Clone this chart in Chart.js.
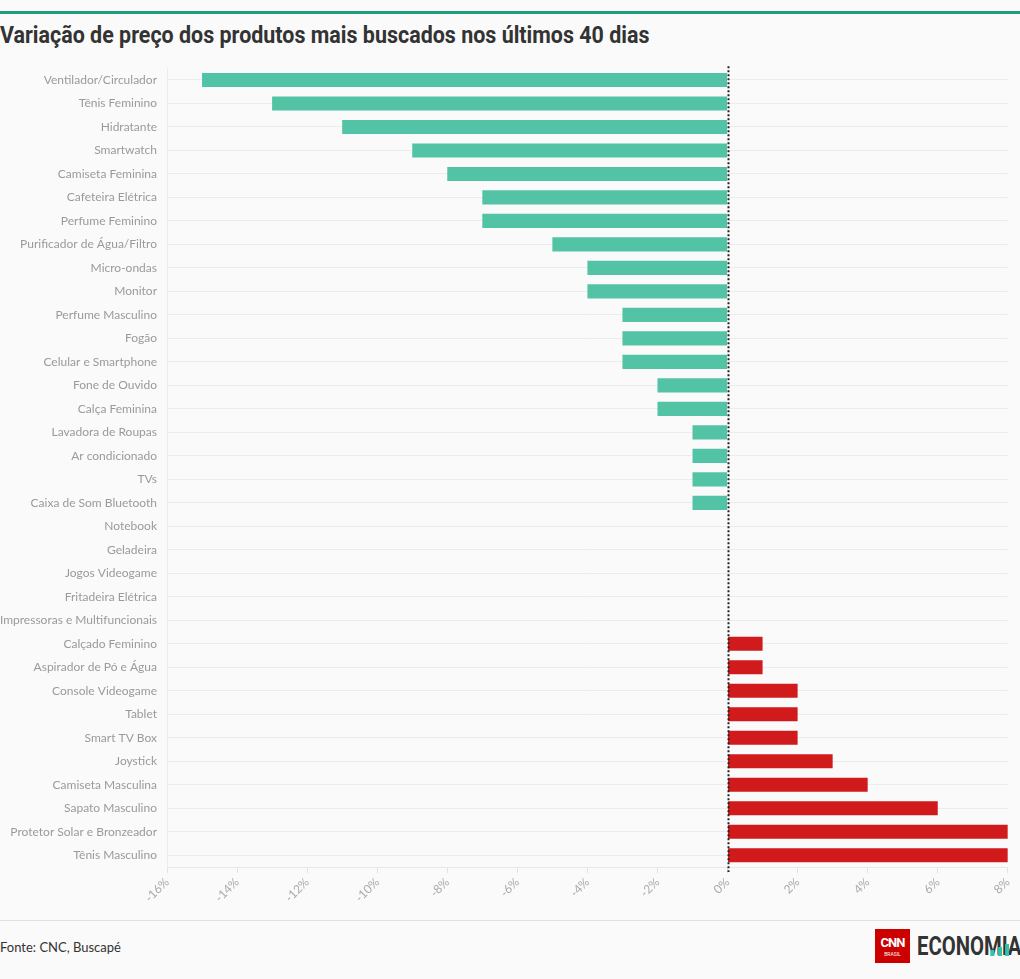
<!DOCTYPE html>
<html lang="pt-BR">
<head>
<meta charset="utf-8">
<title>Variação de preço dos produtos mais buscados</title>
<script src="https://cdn.jsdelivr.net/npm/chart.js@4/dist/chart.umd.min.js"></script>
<style>
  html, body { margin: 0; padding: 0; background: #fafafa; }
  body { width: 1020px; height: 979px; position: relative; overflow: hidden; font-family: Lato, "Noto Sans", sans-serif; }
  .topline { position: absolute; left: 0; top: 11px; width: 1020px; height: 3px; background: #1f9e7e; }
  h1 { position: absolute; left: 0; top: 21px; margin: 0; font-family: Roboto, sans-serif; font-weight: 700; font-size: 22px; color: #333; white-space: nowrap; transform: scaleX(0.975) scaleY(1.08); transform-origin: left top; }
  .chart-box { position: absolute; left: 0; top: 51px; width: 1020px; height: 869px; }
  .divider { position: absolute; left: 0; top: 920px; width: 1020px; height: 1px; background: #e0e0e0; }
  .source { position: absolute; left: 0; top: 939px; font-size: 13px; color: #333; }
  .cnn { position: absolute; left: 875px; top: 929px; width: 35px; height: 34px; background: #cc0000; color: #fff; text-align: center; font-family: Roboto, sans-serif; }
  .cnn b { display: block; font-size: 13px; line-height: 13px; margin-top: 7px; letter-spacing: -1px; }
  .cnn small { display: block; font-size: 5px; line-height: 6px; margin-top: 2px; }
  .eco { position: absolute; left: 917px; top: 931px; font-family: Roboto, sans-serif; font-weight: 700; font-size: 26px; line-height: 30px; color: #333; transform: scaleX(0.78); transform-origin: left top; white-space: nowrap; }
  .eco i { position: absolute; bottom: 5px; width: 5px; background: #2fc4b0; }
</style>
</head>
<body>
<div class="topline"></div>
<h1>Variação de preço dos produtos mais buscados nos últimos 40 dias</h1>
<div class="chart-box"><canvas id="chart"></canvas></div>
<div class="divider"></div>
<div class="source">Fonte: CNC, Buscapé</div>
<div class="cnn"><b>CNN</b><small>BRASIL</small></div>
<div class="eco">ECONOMIA<i style="left:94px;height:6px"></i><i style="left:104px;height:9px"></i><i style="left:113px;height:12px"></i></div>

<script>
'use strict';

// ── Data ─────────────────────────────────────────────
const products = [
  'Ventilador/Circulador', 'Tênis Feminino', 'Hidratante', 'Smartwatch',
  'Camiseta Feminina', 'Cafeteira Elétrica', 'Perfume Feminino',
  'Purificador de Água/Filtro', 'Micro-ondas', 'Monitor', 'Perfume Masculino',
  'Fogão', 'Celular e Smartphone', 'Fone de Ouvido', 'Calça Feminina',
  'Lavadora de Roupas', 'Ar condicionado', 'TVs', 'Caixa de Som Bluetooth',
  'Notebook', 'Geladeira', 'Jogos Videogame', 'Fritadeira Elétrica',
  'Impressoras e Multifuncionais', 'Calçado Feminino', 'Aspirador de Pó e Água',
  'Console Videogame', 'Tablet', 'Smart TV Box', 'Joystick',
  'Camiseta Masculina', 'Sapato Masculino', 'Protetor Solar e Bronzeador',
  'Tênis Masculino'
];
const variation = [
  -15, -13, -11, -9, -8, -7, -7, -5, -4, -4, -3, -3, -3, -2, -2,
  -1, -1, -1, -1, 0, 0, 0, 0, 0, 1, 1, 2, 2, 2, 3, 4, 6, 8, 8
];
const xMin = -16;
const xMax = 8;
const xStep = 2;

const GREEN = '#52c4a5';
const RED   = '#d01a1c';

// ── Dotted zero line ─────────────────────────────────
const zeroLine = {
  id: 'zeroLine',
  afterDatasetsDraw(chart) {
    const { ctx, chartArea, scales } = chart;
    const x = Math.round(scales.x.getPixelForValue(0)) + 0.5;
    ctx.save();
    ctx.strokeStyle = '#222';
    ctx.lineWidth = 2;
    ctx.setLineDash([2, 2]);
    ctx.beginPath();
    ctx.moveTo(x, chartArea.top - 2);
    ctx.lineTo(x, chartArea.bottom + 5);
    ctx.stroke();
    ctx.restore();
  }
};

new Chart(document.getElementById('chart'), {
  type: 'bar',
  data: {
    labels: products,
    datasets: [{
      data: variation,
      backgroundColor: variation.map(v => v < 0 ? GREEN : RED),
      borderWidth: 0,
      categoryPercentage: 1,
      barPercentage: 0.6
    }]
  },
  options: {
    indexAxis: 'y',
    responsive: true,
    maintainAspectRatio: false,
    animation: false,
    layout: { padding: { top: 5, right: 10, left: 0, bottom: 0 } },
    plugins: { legend: { display: false }, tooltip: { enabled: false } },
    scales: {
      x: {
        min: xMin,
        max: xMax,
        ticks: {
          stepSize: xStep,
          minRotation: 45,
          maxRotation: 45,
          color: '#aaa',
          font: { family: 'Lato', size: 12 },
          padding: 2,
          callback: v => v + '%'
        },
        grid: { drawOnChartArea: false, drawTicks: true, tickLength: 6, color: '#e2e2e2' },
        border: { display: true, color: '#e8e8e8' },
        afterFit: s => { s.height = 53; }
      },
      y: {
        ticks: {
          autoSkip: false,
          color: '#9a9a9a',
          font: { family: 'Lato', size: 12 },
          padding: 10
        },
        grid: { offset: false, drawTicks: false, color: '#ececec', lineWidth: 1 },
        border: { display: true, color: '#ececec' },
        afterFit: s => { s.width = 167; }
      }
    }
  },
  plugins: [zeroLine]
});
</script>
</body>
</html>
